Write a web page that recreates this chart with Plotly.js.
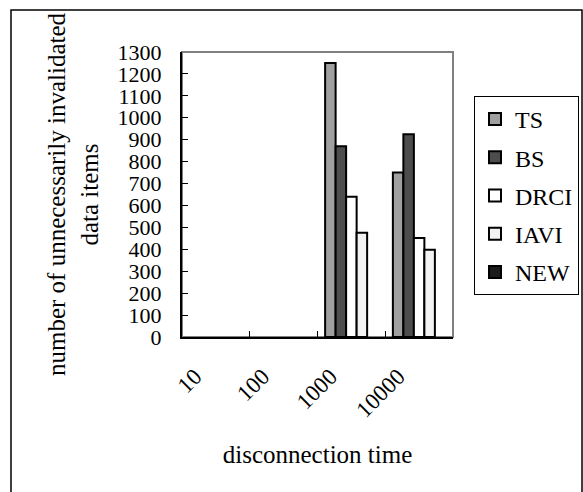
<!DOCTYPE html>
<html>
<head>
<meta charset="utf-8">
<script src="https://cdn.plot.ly/plotly-3.0.1.min.js"></script>
<style>
  html, body { margin: 0; padding: 0; background: #ffffff; }
  #chart { width: 583px; height: 492px; }
</style>
</head>
<body>
<div id="chart"></div>
<script>
// ---- data ----
const categories = ["10", "100", "1000", "10000"];
const seriesNames = ["TS", "BS", "DRCI", "IAVI", "NEW"];
const tsValues   = [null, null, 1250, 750];
const bsValues   = [null, null, 870, 925];
const drciValues = [null, null, 640, 452];
const iaviValues = [null, null, 475, 398];
const newValues  = [null, null, null, null];
const yTickValues = [0, 100, 200, 300, 400, 500, 600, 700, 800, 900, 1000, 1100, 1200, 1300];

// ---- styles ----
const colors = ["#a0a0a0", "#4d4d4d", "#ffffff", "#f2f2f2", "#1c1c1c"];
const allValues = [tsValues, bsValues, drciValues, iaviValues, newValues];
const FONT = "Liberation Serif";

const traces = seriesNames.map((name, i) => ({
  type: "bar",
  name: name,
  x: categories,
  y: allValues[i],
  legendgroup: name,
  marker: { color: colors[i], line: { color: "#000000", width: 2 } },
  hoverinfo: "skip"
}));

const W = 583, H = 492;
const L = 182, R = 130, T = 52, B = 155;
const pw = W - L - R, ph = H - T - B;
const px = x => (x - L) / pw;
const py = y => (H - B - y) / ph;

const layout = {
  width: W, height: H,
  margin: { l: L, r: R, t: T, b: B, pad: 0, autoexpand: false },
  paper_bgcolor: "#ffffff",
  plot_bgcolor: "#ffffff",
  font: { family: FONT, size: 23, color: "#000000" },
  barmode: "group",
  bargap: 0.225,
  bargroupgap: 0,
  showlegend: true,
  legend: {
    x: px(474), y: py(96), xanchor: "left", yanchor: "top",
    bgcolor: "#ffffff", bordercolor: "#000000", borderwidth: 1,
    font: { family: FONT, size: 24, color: "#000000" },
    traceorder: "grouped", tracegroupgap: 4
  },
  xaxis: {
    type: "category",
    categoryorder: "array", categoryarray: categories,
    range: [-0.5, 3.5], autorange: false,
    showline: true, linecolor: "#000000", linewidth: 2,
    ticks: "inside", tickson: "boundaries", ticklen: 6, tickwidth: 1, tickcolor: "#000000",
    tickangle: -45,
    ticklabelshift: -21, ticklabelstandoff: 15,
    tickfont: { family: FONT, size: 23, color: "#000000" },
    showgrid: false, zeroline: false,
    title: { text: "disconnection time", font: { family: FONT, size: 25, color: "#000000" }, standoff: 24 }
  },
  yaxis: {
    range: [0, 1300], autorange: false,
    tickmode: "array", tickvals: yTickValues, ticktext: yTickValues.map(String),
    showline: true, linecolor: "#000000", linewidth: 2,
    ticks: "inside", ticklen: 6, tickwidth: 1, tickcolor: "#000000",
    ticklabelstandoff: 14,
    tickfont: { family: FONT, size: 22, color: "#000000" },
    showgrid: false, zeroline: false,
    title: { text: "number of unnecessarily invalidated<br>data items", font: { family: FONT, size: 25, color: "#000000" }, standoff: 12 }
  },
  shapes: [
    { type: "rect", xref: "paper", yref: "paper", x0: 0, x1: 1, y0: 0, y1: 1,
      line: { color: "#808080", width: 2 }, fillcolor: "rgba(0,0,0,0)", layer: "below" },
    { type: "rect", xref: "paper", yref: "paper",
      x0: px(11), x1: px(582), y0: py(10), y1: py(500),
      line: { color: "#000000", width: 1.5 }, fillcolor: "rgba(0,0,0,0)", layer: "below" }
  ]
};

Plotly.newPlot("chart", traces, layout, { displayModeBar: false, staticPlot: true });
</script>
</body>
</html>
